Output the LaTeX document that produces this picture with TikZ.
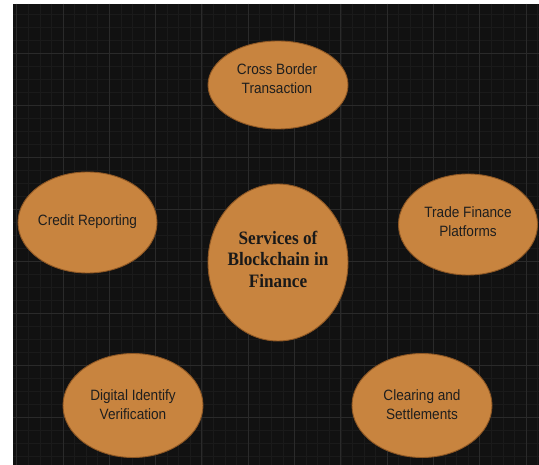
\documentclass[tikz,border=0pt]{standalone}
\usepackage{fontspec}
\setmainfont{Liberation Sans}
\newfontfamily\headserif{Liberation Serif}
\usetikzlibrary{shapes.geometric}

\definecolor{canvas}{HTML}{111111}
\definecolor{gridminor}{HTML}{1A1A1A}
\definecolor{gridmajor}{HTML}{2A2A2A}
\definecolor{bubblefill}{HTML}{C8843F}
\definecolor{bubbleedge}{HTML}{8E5724}
\definecolor{bubbletext}{HTML}{1E1E1E}

\newcommand\tallrows[1]{\scalebox{1}[1.1]{\begin{tabular}{@{}c@{}}#1\end{tabular}}}

\tikzset{
  bubble/.style={ellipse, fill=bubblefill, draw=bubbleedge, line width=0.9pt,
    inner sep=0pt},
  bubbletxt/.style={text=bubbletext, inner sep=0pt,
    font=\fontsize{13.6}{17.3}\selectfont},
  hubtxt/.style={text=black!90, inner sep=0pt,
    font=\headserif\bfseries\fontsize{17.2}{19.5}\selectfont},
}

\begin{document}
\begin{tikzpicture}[x=1pt,y=-1pt]
  \useasboundingbox (0,0) rectangle (539,465);
  \fill[white] (0,0) rectangle (539,465);

  % dark canvas with a two-level grid
  \fill[canvas] (13,4) rectangle (539,465);
  \begin{scope}
    \clip (13,4) rectangle (539,465);
    \foreach \k in {0,...,45} {
      \draw[gridminor, line width=0.6pt] ({16.7+\k*11.575},4) -- ({16.7+\k*11.575},465);
    }
    \foreach \k in {0,...,35} {
      \draw[gridminor, line width=0.6pt] (13,{1+\k*13}) -- (539,{1+\k*13});
    }
    \foreach \k in {0,...,11} {
      \draw[gridmajor, line width=0.9pt] ({16.7+\k*46.3},4) -- ({16.7+\k*46.3},465);
    }
    \foreach \k in {0,...,8} {
      \draw[gridmajor, line width=0.9pt] (13,{1+\k*52}) -- (539,{1+\k*52});
    }
  \end{scope}

  % central topic
  \node[bubble, minimum width=140pt, minimum height=157pt] (hub) at (278,262.5) {};
  \node[hubtxt] (hubtext) at (278,261.5) {\tallrows{Services of\\Blockchain in\\Finance}};

  % surrounding services
  \node[bubble, minimum width=140pt, minimum height=88pt] (cross) at (278,85) {};
  \node[bubbletxt] (crosstext) at (277,80) {\tallrows{Cross Border\\Transaction}};

  \node[bubble, minimum width=139pt, minimum height=101pt] (credit) at (87.5,222.5) {};
  \node[bubbletxt] (credittext) at (87.5,222) {\tallrows{Credit Reporting}};

  \node[bubble, minimum width=139pt, minimum height=101pt] (trade) at (468,224.5) {};
  \node[bubbletxt] (tradetext) at (468,223.5) {\tallrows{Trade Finance\\Platforms}};

  \node[bubble, minimum width=140pt, minimum height=104pt] (digital) at (133,405.5) {};
  \node[bubbletxt] (digitaltext) at (133,406) {\tallrows{Digital Identify\\Verification}};

  \node[bubble, minimum width=140pt, minimum height=104pt] (clearing) at (422,405.5) {};
  \node[bubbletxt] (clearingtext) at (422,406) {\tallrows{Clearing and\\Settlements}};
\end{tikzpicture}
\end{document}
